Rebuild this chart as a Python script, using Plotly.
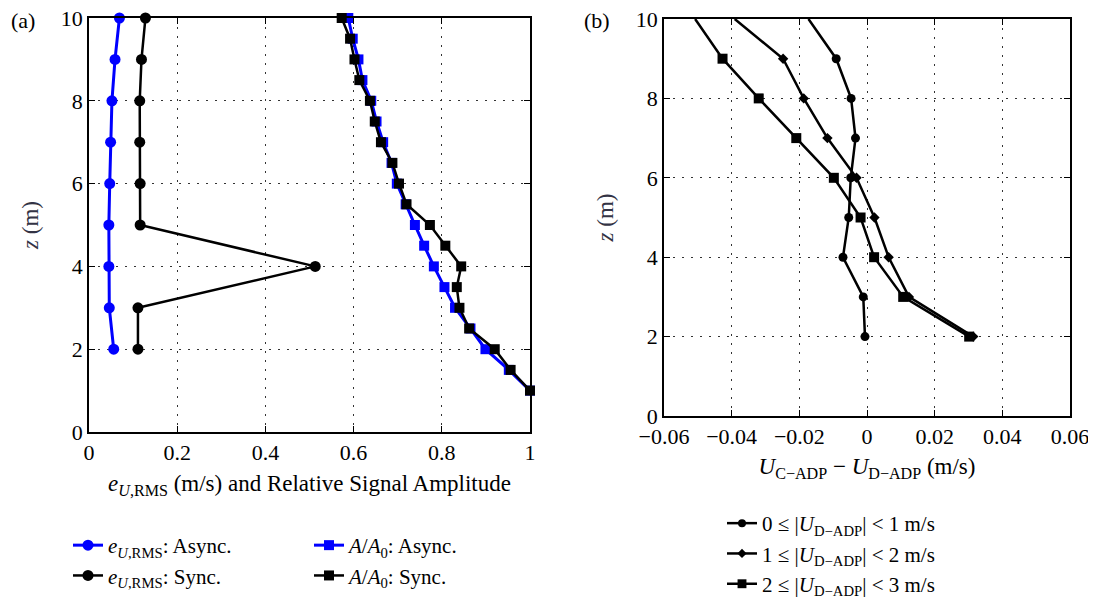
import plotly.graph_objects as go

# ---- data ----
z_err = [10, 9, 8, 7, 6, 5, 4, 3, 2]
e_async = [0.069, 0.059, 0.052, 0.049, 0.047, 0.045, 0.045, 0.046, 0.056]
e_sync = [0.128, 0.119, 0.115, 0.115, 0.116, 0.116, 0.513, 0.111, 0.111]

z_amp = [10, 9.5, 9, 8.5, 8, 7.5, 7, 6.5, 6, 5.5, 5, 4.5, 4, 3.5, 3, 2.5, 2, 1.5, 1]
a_async = [0.588, 0.598, 0.611, 0.620, 0.640, 0.652, 0.667, 0.686, 0.698, 0.718, 0.739,
           0.760, 0.782, 0.806, 0.830, 0.865, 0.899, 0.952, 1.0]
a_sync = [0.573, 0.592, 0.602, 0.613, 0.637, 0.648, 0.662, 0.688, 0.703, 0.720, 0.773,
          0.808, 0.844, 0.834, 0.840, 0.862, 0.920, 0.956, 1.0]

z_diff = [10, 9, 8, 7, 6, 5, 4, 3, 2]
d_0_1 = [-0.0173, -0.0091, -0.0047, -0.0034, -0.0048, -0.0054, -0.0071, -0.0011, -0.0006]
d_1_2 = [-0.0391, -0.0248, -0.0187, -0.0117, -0.0031, 0.0022, 0.0064, 0.0124, 0.0314]
d_2_3 = [-0.0508, -0.0427, -0.0320, -0.0209, -0.0098, -0.0019, 0.0021, 0.0107, 0.0302]

x_ticks_a = [0, 0.2, 0.4, 0.6, 0.8, 1]
x_ticks_b = [-0.06, -0.04, -0.02, 0, 0.02, 0.04, 0.06]
y_ticks = [0, 2, 4, 6, 8, 10]

FONT = "Liberation Serif"
BLUE = "#0000FF"
BLACK = "#000000"

fig = go.Figure()

# ---- panel (a) ----
fig.add_trace(go.Scatter(x=e_async, y=z_err, mode="lines+markers", xaxis="x", yaxis="y",
                         line=dict(color=BLUE, width=3),
                         marker=dict(symbol="circle", size=11, color=BLUE, opacity=1, line=dict(width=0)),
                         name="<i>e</i><sub><i>U</i>,RMS</sub>: Async.", legend="legend", legendrank=1,
                         cliponaxis=False))
fig.add_trace(go.Scatter(x=e_sync, y=z_err, mode="lines+markers", xaxis="x", yaxis="y",
                         line=dict(color=BLACK, width=2.5),
                         marker=dict(symbol="circle", size=11, color=BLACK, opacity=1, line=dict(width=0)),
                         name="<i>e</i><sub><i>U</i>,RMS</sub>: Sync.", legend="legend", legendrank=2,
                         cliponaxis=False))
fig.add_trace(go.Scatter(x=a_async, y=z_amp, mode="lines+markers", xaxis="x", yaxis="y",
                         line=dict(color=BLUE, width=3),
                         marker=dict(symbol="square", size=10, color=BLUE, opacity=1, line=dict(width=0)),
                         name="<i>A</i>/<i>A</i><sub>0</sub>: Async.", legend="legend2", legendrank=1,
                         cliponaxis=False))
fig.add_trace(go.Scatter(x=a_sync, y=z_amp, mode="lines+markers", xaxis="x", yaxis="y",
                         line=dict(color=BLACK, width=2.5),
                         marker=dict(symbol="square", size=10, color=BLACK, opacity=1, line=dict(width=0)),
                         name="<i>A</i>/<i>A</i><sub>0</sub>: Sync.", legend="legend2", legendrank=2,
                         cliponaxis=False))

# ---- panel (b) ----
msz_c = [0] + [9] * (len(z_diff) - 1)
msz_d = [0] + [8] * (len(z_diff) - 1)
msz_s = [0] + [10] * (len(z_diff) - 1)
fig.add_trace(go.Scatter(x=d_0_1, y=z_diff, mode="lines+markers", xaxis="x2", yaxis="y2",
                         line=dict(color=BLACK, width=2.5),
                         marker=dict(symbol="circle", size=msz_c, color=BLACK, opacity=1, line=dict(width=0)),
                         name="0 ≤ |<i>U</i><sub>D−ADP</sub>| &lt; 1 m/s", legend="legend3", legendrank=1))
fig.add_trace(go.Scatter(x=d_1_2, y=z_diff, mode="lines+markers", xaxis="x2", yaxis="y2",
                         line=dict(color=BLACK, width=2.5),
                         marker=dict(symbol="diamond", size=msz_d, color=BLACK, opacity=1, line=dict(width=0)),
                         name="1 ≤ |<i>U</i><sub>D−ADP</sub>| &lt; 2 m/s", legend="legend3", legendrank=2))
fig.add_trace(go.Scatter(x=d_2_3, y=z_diff, mode="lines+markers", xaxis="x2", yaxis="y2",
                         line=dict(color=BLACK, width=2.5),
                         marker=dict(symbol="square", size=msz_s, color=BLACK, opacity=1, line=dict(width=0)),
                         name="2 ≤ |<i>U</i><sub>D−ADP</sub>| &lt; 3 m/s", legend="legend3", legendrank=3))

W, H = 1096, 615
OFF = 8  # page body margin of the rendered html


def px_x(p):
    return (p - OFF) / W


def px_y(p):
    return 1 - (p - OFF) / H


common = dict(showline=True, linecolor=BLACK, linewidth=1.5, mirror="ticks", ticks="inside",
              ticklen=6, tickcolor=BLACK, showgrid=True, gridcolor="#333333", gridwidth=1,
              griddash="2px,7px", zeroline=False, automargin=False, ticklabeloverflow="allow",
              tickfont=dict(family=FONT, size=22, color=BLACK))

legend_common = dict(font=dict(family=FONT, size=21, color=BLACK), bgcolor="rgba(0,0,0,0)",
                     orientation="v", xanchor="left", yanchor="top", tracegroupgap=0,
                     itemwidth=30)

TITLE_FONT = dict(family=FONT, size=23, color=BLACK)
Z_FONT = dict(family=FONT, size=23, color="#333344")

fig.update_layout(
    width=W, height=H,
    margin=dict(l=0, r=0, t=0, b=0, autoexpand=False),
    paper_bgcolor="white", plot_bgcolor="white",
    font=dict(family=FONT, size=22, color=BLACK),
    xaxis=dict(domain=[px_x(89), px_x(530)], range=[0, 1], tickvals=x_ticks_a,
               ticktext=["0", "0.2", "0.4", "0.6", "0.8", "1"], anchor="y",
               title=dict(text="<i>e</i><sub><i>U</i>,RMS</sub> (m/s) and Relative Signal Amplitude",
                          font=TITLE_FONT, standoff=11), **common),
    yaxis=dict(domain=[px_y(432), px_y(18)], range=[0, 10], tickvals=y_ticks, anchor="x",
               title=dict(text="<i>z</i> (m)", font=Z_FONT, standoff=16), **common),
    xaxis2=dict(domain=[px_x(664), px_x(1070)], range=[-0.06, 0.06], tickvals=x_ticks_b,
                ticktext=["−0.06", "−0.04", "−0.02", "0", "0.02", "0.04", "0.06"], anchor="y2",
                title=dict(text="<i>U</i><sub>C−ADP</sub> − <i>U</i><sub>D−ADP</sub> (m/s)",
                           font=TITLE_FONT, standoff=10), **common),
    yaxis2=dict(domain=[px_y(416), px_y(19)], range=[0, 10], tickvals=y_ticks, anchor="x2",
                title=dict(text="<i>z</i> (m)", font=Z_FONT, standoff=16), **common),
    legend=dict(x=px_x(68), y=px_y(525), **legend_common),
    legend2=dict(x=px_x(309), y=px_y(525), **legend_common),
    legend3=dict(x=px_x(722), y=px_y(503), **legend_common),
    annotations=[
        dict(text="(a)", x=px_x(9), y=px_y(20), xref="paper", yref="paper", xanchor="left",
             yanchor="middle", showarrow=False, font=dict(family=FONT, size=22, color=BLACK)),
        dict(text="(b)", x=px_x(582), y=px_y(20), xref="paper", yref="paper", xanchor="left",
             yanchor="middle", showarrow=False, font=dict(family=FONT, size=22, color=BLACK)),
    ],
)

fig.write_html("out.html")
